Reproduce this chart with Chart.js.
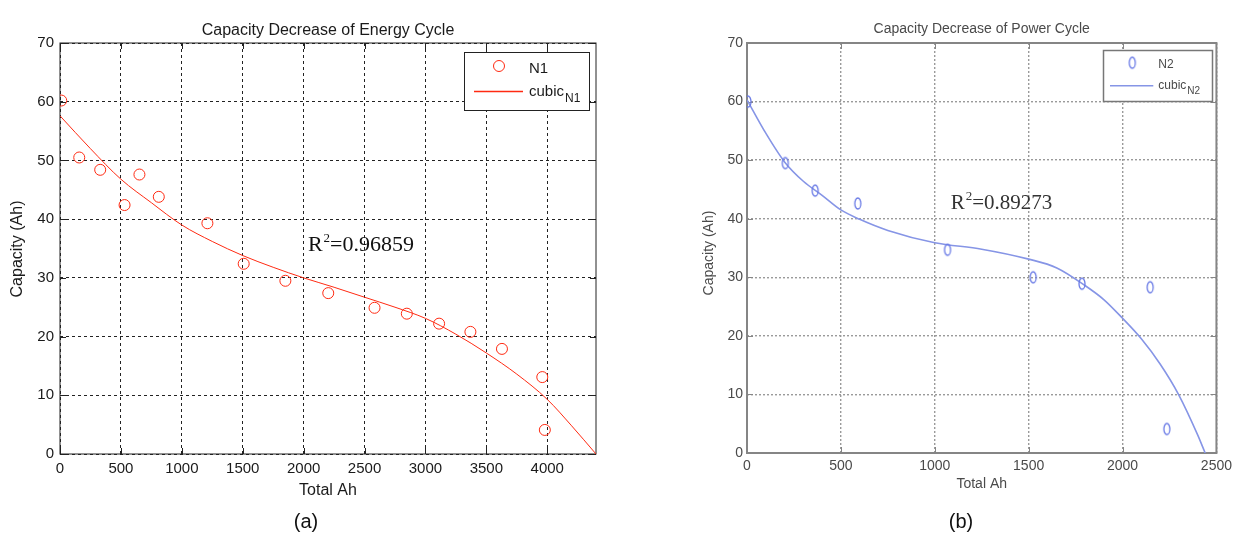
<!DOCTYPE html>
<html>
<head>
<meta charset="utf-8">
<title>Capacity Decrease</title>
<script src="https://cdn.jsdelivr.net/npm/chart.js@4.4.1/dist/chart.umd.min.js"></script>
<style>
  html, body { margin: 0; padding: 0; background: #fff; }
  body { width: 1237px; height: 534px; position: relative; overflow: hidden; }
  canvas { position: absolute; top: 0; }
  #energyChart { left: 0; }
  #powerChart { left: 620px; filter: blur(0.5px); }
  .tag { position: absolute; top: 508px; width: 40px; margin-left: -20px; text-align: center;
         font: 20px "Liberation Sans", Arial, sans-serif; color: #111; line-height: 26px; }
</style>
</head>
<body>
<canvas id="energyChart" width="620" height="534"></canvas>
<canvas id="powerChart" width="617" height="534"></canvas>
<div class="tag" style="left:306px">(a)</div>
<div class="tag" style="left:961px">(b)</div>

<script>
// Values

// (a) energy cycle: measured points N1
const energyAh  = [10, 158, 330, 530, 652, 811, 1210, 1508, 1850, 2202, 2582, 2847, 3112, 3369, 3628, 3959, 3980];
const energyCap = [60.2, 50.5, 48.4, 42.4, 47.6, 43.8, 39.3, 32.4, 29.5, 27.4, 24.9, 23.9, 22.2, 20.8, 17.9, 13.1, 4.1];
// (a) cubic fit, sampled from the drawn curve
const energyFitAh  = [0, 250, 500, 750, 1000, 1250, 1500, 1750, 2000, 2250, 2500, 2750, 3000, 3250, 3500, 3750, 4000, 4200, 4400];
const energyFitCap = [57.6, 52.0, 46.8, 42.8, 39.0, 36.2, 33.8, 31.8, 30.0, 28.4, 26.7, 25.0, 23.1, 20.4, 17.2, 13.6, 9.3, 4.8, 0];
const energyXTicks = [0, 500, 1000, 1500, 2000, 2500, 3000, 3500, 4000];

// (b) power cycle: measured points N2
const powerAh  = [5, 204, 363, 590, 1068, 1524, 1784, 2147, 2236];
const powerCap = [60.0, 49.5, 44.8, 42.6, 34.7, 30.0, 28.9, 28.3, 4.1];
// (b) cubic fit, sampled from the drawn curve
const powerFitAh  = [0, 100, 200, 300, 400, 500, 600, 750, 1000, 1250, 1500, 1650, 1800, 1900, 2000, 2100, 2200, 2300, 2400, 2440];
const powerFitCap = [60.3, 54.6, 49.7, 46.4, 44.0, 41.5, 39.9, 38.0, 35.9, 34.8, 33.1, 31.6, 28.6, 26.2, 23.0, 19.5, 15.2, 9.9, 3.1, 0];
const powerXTicks = [0, 500, 1000, 1500, 2000, 2500];

const yTicks = [0, 10, 20, 30, 40, 50, 60, 70];

const SANS = '"Liberation Sans", Arial, sans-serif';
const SERIF = '"Liberation Serif", "Times New Roman", serif';

function toPoints(xs, ys) {
  return xs.map((x, i) => ({ x: x, y: ys[i] }));
}

// narrow "0"-looking marker used in the power-cycle figure
function ellipseMarker(color) {
  const c = document.createElement("canvas");
  c.width = 10; c.height = 15;
  const g = c.getContext("2d");
  g.strokeStyle = color;
  g.lineWidth = 1.3;
  g.beginPath();
  g.ellipse(5, 7.5, 3, 5.5, 0, 0, Math.PI * 2);
  g.stroke();
  return c;
}

// box (with inward tick marks), titles, R^2 and the legend with subscript
function decor(cfg) {
  return {
    id: "decor",
    beforeDatasetsDraw(chart) {
      const { ctx, chartArea: a, scales } = chart;
      ctx.save();
      ctx.strokeStyle = cfg.boxColor;
      ctx.lineWidth = cfg.boxWidth;
      ctx.strokeRect(a.left, a.top, a.right - a.left, a.bottom - a.top);
      ctx.lineWidth = 1;
      ctx.beginPath();
      scales.x.ticks.forEach(t => {
        const px = Math.round(scales.x.getPixelForValue(t.value)) + 0.5;
        ctx.moveTo(px, a.top); ctx.lineTo(px, a.top + 6);
        ctx.moveTo(px, a.bottom); ctx.lineTo(px, a.bottom - 6);
      });
      scales.y.ticks.forEach(t => {
        const py = Math.round(scales.y.getPixelForValue(t.value)) + 0.5;
        ctx.moveTo(a.left, py); ctx.lineTo(a.left + 6, py);
        ctx.moveTo(a.right, py); ctx.lineTo(a.right - 6, py);
      });
      ctx.stroke();
      ctx.restore();
    },
    afterDatasetsDraw(chart) {
      const { ctx, chartArea: a, scales } = chart;
      const cx = (a.left + a.right) / 2;
      ctx.save();
      ctx.fillStyle = cfg.textColor;
      ctx.textBaseline = "alphabetic";

      // title
      ctx.textAlign = "center";
      ctx.font = cfg.titleSize + "px " + SANS;
      ctx.fillText(cfg.title, cx, cfg.titleBase);

      // x axis title
      ctx.font = cfg.labelSize + "px " + SANS;
      ctx.fillText("Total Ah", cx, cfg.xTitleBase);

      // y axis title
      ctx.save();
      ctx.translate(cfg.yTitleX, cfg.yTitleY);
      ctx.rotate(-Math.PI / 2);
      ctx.textBaseline = "middle";
      ctx.fillText("Capacity (Ah)", 0, 0);
      ctx.restore();

      // R^2 annotation
      ctx.textAlign = "left";
      ctx.fillStyle = cfg.rColor;
      let rx = scales.x.getPixelForValue(cfg.rAt[0]);
      const ry = scales.y.getPixelForValue(cfg.rAt[1]);
      ctx.font = cfg.rSize + "px " + SERIF;
      ctx.fillText("R", rx, ry);
      rx += ctx.measureText("R").width + 1;
      ctx.font = Math.round(cfg.rSize * 0.6) + "px " + SERIF;
      ctx.fillText("2", rx, ry - cfg.rSize * 0.42);
      rx += ctx.measureText("2").width;
      ctx.font = cfg.rSize + "px " + SERIF;
      ctx.fillText("=" + cfg.rValue, rx, ry);

      // legend
      const L = cfg.legend;
      ctx.fillStyle = "#fff";
      ctx.fillRect(L.box[0], L.box[1], L.box[2], L.box[3]);
      ctx.strokeStyle = L.border;
      ctx.lineWidth = L.borderWidth;
      ctx.strokeRect(L.box[0], L.box[1], L.box[2], L.box[3]);

      const pointStyle = chart.data.datasets[0].pointStyle;
      if (pointStyle === "circle") {
        ctx.strokeStyle = cfg.pointColor;
        ctx.lineWidth = 1;
        ctx.beginPath();
        ctx.arc(L.marker[0], L.marker[1], cfg.pointRadius, 0, Math.PI * 2);
        ctx.stroke();
      } else {
        ctx.drawImage(pointStyle, L.marker[0] - pointStyle.width / 2, L.marker[1] - pointStyle.height / 2);
      }
      ctx.strokeStyle = cfg.lineColor;
      ctx.lineWidth = cfg.legendLineWidth;
      ctx.beginPath();
      ctx.moveTo(L.line[0], L.line[2]);
      ctx.lineTo(L.line[1], L.line[2]);
      ctx.stroke();

      ctx.fillStyle = cfg.textColor;
      ctx.font = L.size + "px " + SANS;
      ctx.fillText(cfg.series, L.textX, L.base1);
      ctx.fillText("cubic", L.textX, L.base2);
      const w = ctx.measureText("cubic").width;
      ctx.font = L.subSize + "px " + SANS;
      ctx.fillText(cfg.series, L.textX + w + 1, L.base2 + L.subDrop);
      ctx.restore();
    }
  };
}

function buildChart(canvasId, cfg) {
  const tickFont = { family: SANS, size: cfg.tickSize };
  return new Chart(document.getElementById(canvasId), {
    type: "scatter",
    data: {
      datasets: [
        {
          label: cfg.series,
          data: toPoints(cfg.xs, cfg.ys),
          showLine: false,
          pointStyle: cfg.pointStyle,
          pointRadius: cfg.pointRadius,
          pointBorderColor: cfg.pointColor,
          pointBackgroundColor: "rgba(0,0,0,0)",
          pointBorderWidth: 1,
          order: 1
        },
        {
          label: "cubic",
          data: toPoints(cfg.fitXs, cfg.fitYs),
          showLine: true,
          pointRadius: 0,
          borderColor: cfg.lineColor,
          borderWidth: cfg.lineWidth,
          cubicInterpolationMode: "monotone",
          fill: false,
          order: 2
        }
      ]
    },
    options: {
      responsive: false,
      animation: false,
      events: [],
      layout: { padding: cfg.padding },
      plugins: { legend: { display: false }, tooltip: { enabled: false } },
      scales: {
        x: {
          type: "linear",
          min: 0,
          max: cfg.xMax,
          afterFit(s) { s.height = cfg.xAxisHeight; },
          afterBuildTicks(s) { s.ticks = cfg.xTicks.map(v => ({ value: v })); },
          ticks: {
            autoSkip: false,
            maxRotation: 0,
            padding: cfg.xTickPad,
            color: cfg.textColor,
            font: tickFont,
            callback: v => String(v)
          },
          grid: { color: cfg.gridColor, lineWidth: cfg.gridWidth, drawTicks: false },
          border: { display: false, dash: cfg.gridDash }
        },
        y: {
          type: "linear",
          min: 0,
          max: 70,
          afterFit(s) { s.width = 60; },
          afterBuildTicks(s) { s.ticks = yTicks.map(v => ({ value: v })); },
          ticks: {
            padding: cfg.yTickPad,
            color: cfg.textColor,
            font: tickFont,
            callback: v => String(v)
          },
          grid: { color: cfg.gridColor, lineWidth: cfg.gridWidth, drawTicks: false },
          border: { display: false, dash: cfg.gridDash }
        }
      }
    },
    plugins: [decor(cfg)]
  });
}

const energyCfg = {
  xs: energyAh, ys: energyCap, fitXs: energyFitAh, fitYs: energyFitCap, xTicks: energyXTicks,
  series: "N1", title: "Capacity Decrease of Energy Cycle",
  xMax: 4400, padding: { left: 0, right: 24, top: 43, bottom: 0 }, xAxisHeight: 80,
  pointStyle: "circle", pointRadius: 5.5, pointColor: "#ff2a12",
  lineColor: "#ff2a12", lineWidth: 1, legendLineWidth: 1.3,
  gridColor: "#222", gridWidth: 1, gridDash: [3, 3],
  boxColor: "#222", boxWidth: 1,
  textColor: "#1a1a1a", tickSize: 15, xTickPad: 6, yTickPad: 6,
  titleSize: 16, titleBase: 35, labelSize: 16, xTitleBase: 495, yTitleX: 18, yTitleY: 249,
  rAt: [2035, 34.5], rSize: 22, rValue: "0.96859", rColor: "#111",
  legend: {
    box: [464.5, 52.5, 125, 58], border: "#222", borderWidth: 1,
    marker: [499, 66], line: [474, 523, 91.5],
    textX: 529, base1: 72.5, base2: 96, size: 15, subSize: 12, subDrop: 5.5
  }
};

const powerCfg = {
  xs: powerAh, ys: powerCap, fitXs: powerFitAh, fitYs: powerFitCap, xTicks: powerXTicks,
  series: "N2", title: "Capacity Decrease of Power Cycle",
  xMax: 2500, padding: { left: 67, right: 19, top: 43, bottom: 0 }, xAxisHeight: 81,
  pointStyle: ellipseMarker("#6a7be6"), pointRadius: 6, pointColor: "#6a7be6",
  lineColor: "#8695e6", lineWidth: 1.6, legendLineWidth: 1.6,
  gridColor: "#9a9a9a", gridWidth: 1.4, gridDash: [2, 2],
  boxColor: "#858585", boxWidth: 2,
  textColor: "#4a4a4a", tickSize: 14, xTickPad: 5, yTickPad: 4,
  titleSize: 14, titleBase: 33, labelSize: 14, xTitleBase: 488, yTitleX: 89, yTitleY: 253,
  rAt: [1085, 41.7], rSize: 21, rValue: "0.89273", rColor: "#333",
  legend: {
    box: [483.5, 50.5, 109, 51], border: "#777", borderWidth: 1.5,
    marker: [512.3, 62.7], line: [490, 533.3, 85.7],
    textX: 538.3, base1: 67.5, base2: 89, size: 12, subSize: 10, subDrop: 4.5
  }
};

buildChart("energyChart", energyCfg);
buildChart("powerChart", powerCfg);
</script>
</body>
</html>
